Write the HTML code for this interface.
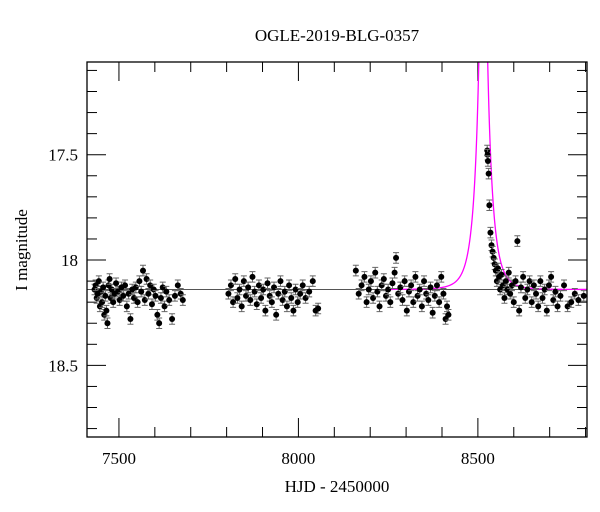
<!DOCTYPE html>
<html><head><meta charset="utf-8"><style>
body{margin:0;background:#fff;}
svg{display:block;font-family:"Liberation Serif",serif;}
</style></head><body>
<svg id="chart" width="600" height="512">
<text x="337" y="41" text-anchor="middle" font-size="17">OGLE-2019-BLG-0357</text>
<text x="337" y="492" text-anchor="middle" font-size="17">HJD - 2450000</text>
<text transform="translate(27,250) rotate(-90)" text-anchor="middle" font-size="17">I magnitude</text>
<defs><clipPath id="plotclip"><rect x="87" y="62" width="500" height="375"/></clipPath></defs>
<g id="ticks"></g>
<g id="model" clip-path="url(#plotclip)"></g>
<g id="points" clip-path="url(#plotclip)"></g>
<rect x="87" y="62" width="500" height="375" fill="none" stroke="#000" stroke-width="1.3"/>
</svg>
<script>
const xTicks=[7500,8000,8500];
const yTicks=[17.5,18,18.5];
const yTickLabels=["17.5","18","18.5"];
const modelParams=[8515,32,0.05,18.14]; // t0, tE, u0, baseline mag
const t1=[7432,7435,7438,7441,7444,7447,7450,7453,7456,7459,7462,7465,7468,7471,7474,7477,7480,7484,7488,7492,7497,7502,7507,7512,7517,7522,7527,7532,7537,7542,7547,7552,7557,7562,7567,7572,7577,7582,7587,7592,7597,7602,7607,7612,7617,7622,7627,7632,7640,7648,7656,7664,7672,7678];
const m1=[18.14,18.12,18.18,18.16,18.1,18.22,18.15,18.2,18.13,18.26,18.17,18.24,18.3,18.12,18.09,18.18,18.14,18.2,18.16,18.11,18.15,18.19,18.13,18.17,18.12,18.22,18.16,18.28,18.14,18.18,18.13,18.2,18.1,18.15,18.05,18.19,18.09,18.16,18.12,18.21,18.14,18.17,18.26,18.3,18.18,18.13,18.22,18.15,18.19,18.28,18.17,18.12,18.16,18.19];
const t2=[7805,7812,7818,7824,7830,7836,7842,7848,7854,7860,7866,7872,7878,7884,7890,7896,7902,7908,7914,7920,7926,7932,7938,7944,7950,7956,7962,7968,7974,7980,7986,7992,7998,8005,8012,8020,8030,8040,8048,8055];
const m2=[18.16,18.12,18.2,18.09,18.18,18.14,18.22,18.1,18.17,18.13,18.19,18.08,18.15,18.21,18.12,18.18,18.14,18.24,18.11,18.17,18.2,18.13,18.26,18.16,18.1,18.19,18.15,18.22,18.12,18.18,18.24,18.14,18.2,18.16,18.12,18.18,18.15,18.1,18.24,18.23];
const t3=[8160,8168,8176,8184,8190,8196,8202,8208,8214,8220,8226,8232,8238,8244,8250,8256,8262,8268,8272,8278,8284,8290,8296,8302,8308,8314,8320,8326,8332,8338,8344,8350,8356,8362,8368,8374,8380,8386,8392,8398,8404,8410,8414,8418];
const m3=[18.05,18.16,18.12,18.08,18.2,18.14,18.1,18.18,18.06,18.15,18.22,18.12,18.09,18.17,18.14,18.2,18.11,18.06,17.99,18.16,18.13,18.19,18.1,18.24,18.15,18.12,18.2,18.08,18.17,18.14,18.22,18.1,18.16,18.19,18.13,18.25,18.17,18.12,18.2,18.08,18.16,18.28,18.22,18.26];
const t4=[8526,8527,8528,8530,8532,8535,8538,8541,8544,8547,8550,8553,8556,8559,8562,8566,8570,8574,8578,8582,8586,8590,8595,8600,8605,8610,8615,8620,8626,8632,8638,8644,8650,8656,8662,8668,8674,8680,8686,8692,8698,8704,8710,8716,8722,8730,8740,8750,8760,8770,8780,8795];
const m4=[17.48,17.5,17.53,17.59,17.74,17.87,17.93,17.96,17.99,18.02,18.05,18.1,18.04,18.08,18.14,18.07,18.12,18.18,18.1,18.14,18.06,18.16,18.12,18.2,18.1,17.91,18.24,18.13,18.08,18.18,18.14,18.1,18.2,18.12,18.16,18.22,18.1,18.18,18.14,18.24,18.12,18.08,18.19,18.15,18.22,18.17,18.12,18.22,18.2,18.16,18.19,18.17];
const errBar=0.025;

const X=t=>87+(t-7411)*(500/1393);
const Y=m=>62+(m-17.06)*(375/1.78);
const NS="http://www.w3.org/2000/svg";
function mk(tag,attrs,parent){const e=document.createElementNS(NS,tag);for(const k in attrs)e.setAttribute(k,attrs[k]);parent.appendChild(e);return e;}
const ticks=document.getElementById('ticks');
for(let v=7500;v<=8800;v+=100){
  const major=xTicks.includes(v);const L=major?19:10;const x=X(v);
  const a=mk('line',{x1:x,x2:x,y1:437,y2:437-L,stroke:'#000','stroke-width':1},ticks);
  
  
  const b=mk('line',{x1:x,x2:x,y1:62,y2:62+L,stroke:'#000','stroke-width':1},ticks);
  
  
}
xTicks.forEach(v=>{const t=mk('text',{x:X(v),y:464,'text-anchor':'middle','font-size':17},ticks);t.textContent=String(v);
  
  });
for(let k=171;k<=188;k++){
  const v=k/10;const major=yTicks.some(y=>Math.abs(y-v)<1e-6);const L=major?19:10;const y=Y(v);
  if(y<62||y>437)continue;
  const a=mk('line',{x1:87,x2:87+L,y1:y,y2:y,stroke:'#000','stroke-width':1},ticks);
  
  
  const b=mk('line',{x1:587,x2:587-L,y1:y,y2:y,stroke:'#000','stroke-width':1},ticks);
  
  
}
yTicks.forEach((v,i)=>{const t=mk('text',{x:78,y:Y(v)+6,'text-anchor':'end','font-size':17},ticks);t.textContent=yTickLabels[i];
  
  });

const model=document.getElementById('model');
const base=mk('line',{x1:87,x2:587,y1:Y(modelParams[3]),y2:Y(modelParams[3]),stroke:'#555','stroke-width':1},model);


function mag(t){const[t0,tE,u0,b]=modelParams;const tau=(t-t0)/tE;const u=Math.sqrt(u0*u0+tau*tau);const A=(u*u+2)/(u*Math.sqrt(u*u+4));return b-2.5*Math.log10(A);}
let d='';for(let t=8250;t<=8805;t+=0.5){d+=(d?'L':'M')+X(t).toFixed(2)+','+Math.max(Y(mag(t)),40).toFixed(2);}
const mp=mk('path',{d:d,fill:'none',stroke:'#ff00ff','stroke-width':1.3},model);



const pts=document.getElementById('points');
[[t1,m1],[t2,m2],[t3,m3],[t4,m4]].forEach(([ts,ms])=>{
  ts.forEach((t,i)=>{
    const x=X(t),y=Y(ms[i]),e=errBar*375/1.78;
    const g=mk('g',{},pts);
    
    
    mk('path',{d:`M${x},${y-e}V${y+e}M${x-3},${y-e}H${x+3}M${x-3},${y+e}H${x+3}`,stroke:'#666','stroke-width':1,fill:'none'},g);
    mk('circle',{cx:x,cy:y,r:3,fill:'#000'},g);
  });
});
</script>
</body></html>
